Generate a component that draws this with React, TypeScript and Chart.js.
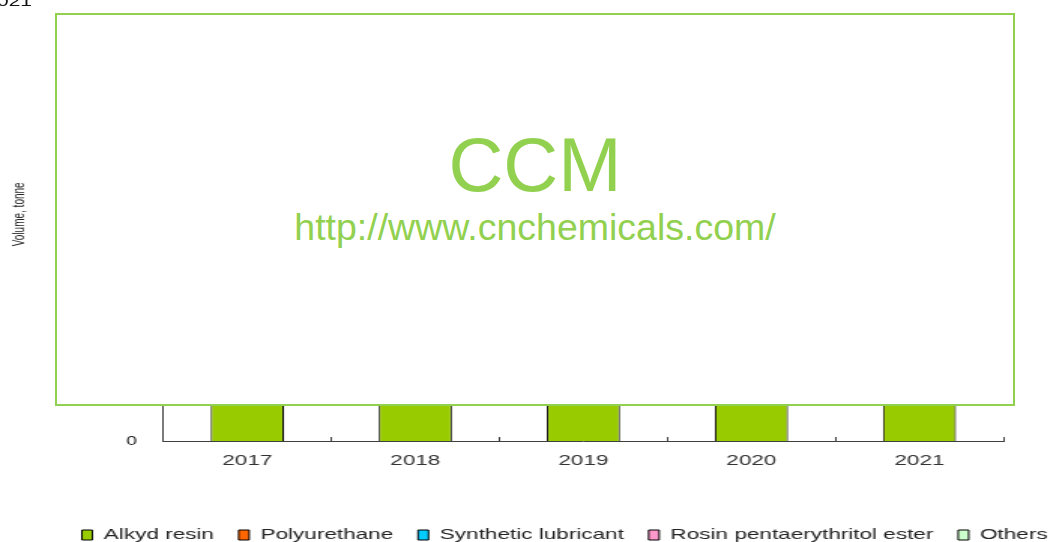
import React, { useEffect, useRef } from 'react';
import { Chart, registerables } from 'chart.js';

Chart.register(...registerables);

// ---- data ----
const years = ['2017', '2018', '2019', '2020', '2021'];
const seriesNames = ['Alkyd resin', 'Polyurethane', 'Synthetic lubricant', 'Rosin pentaerythritol ester', 'Others'];
const alkydResin = [93000, 96000, 99000, 94000, 101000];
const polyurethane = [22000, 24000, 26000, 25000, 28000];
const syntheticLubricant = [15000, 16500, 18000, 17500, 19500];
const rosinEster = [12000, 12500, 13000, 12000, 13500];
const others = [20000, 21000, 22500, 21500, 23000];
const seriesColors = ['#99CC00', '#FF6600', '#00CCFF', '#FF99CC', '#CCFFCC'];
const yAxisTitle = 'Volume, tonne';
const titleFragment = '021';
const watermarkMain = 'CCM';
const watermarkUrl = 'http://www.cnchemicals.com/';

const FONT = "'Liberation Sans', Arial, sans-serif";
const CANVAS_W = 752.6;
const CANVAS_H = 593;

export default function App() {
  const ref = useRef<HTMLCanvasElement>(null);

  useEffect(() => {
    const values = [alkydResin, polyurethane, syntheticLubricant, rosinEster, others];
    const chart = new Chart(ref.current!, {
      type: 'bar',
      data: {
        labels: years,
        datasets: seriesNames.map((name, i) => ({
          label: name,
          data: values[i],
          backgroundColor: seriesColors[i],
          borderColor: '#000000',
          borderWidth: 1,
          categoryPercentage: 1,
          barPercentage: 0.435,
        })),
      },
      options: {
        responsive: false,
        animation: false,
        devicePixelRatio: 1,
        layout: { padding: { top: 61, left: 0, right: 0, bottom: 0.5 } },
        font: { family: FONT },
        plugins: {
          title: { display: false },
          tooltip: { enabled: false },
          legend: {
            position: 'bottom',
            labels: {
              font: { family: FONT, size: 15 },
              color: '#222222',
              boxWidth: 7,
              boxHeight: 10,
              padding: 16.5,
            },
          },
        },
        scales: {
          x: {
            stacked: true,
            grid: {
              display: true,
              drawOnChartArea: false,
              drawTicks: true,
              tickLength: -4,
              offset: true,
              color: '#404040',
              lineWidth: 1,
            },
            border: { display: true, color: '#404040', width: 1 },
            ticks: { font: { family: FONT, size: 15 }, color: '#333333', padding: 14.5 },
            afterFit: (s: any) => { s.height = 70; },
          },
          y: {
            stacked: true,
            min: 0,
            max: 200000,
            grid: { display: false, drawTicks: false },
            border: { display: true, color: '#404040', width: 1 },
            ticks: { stepSize: 50000, font: { family: FONT, size: 13 }, color: '#222222', padding: 17.4 },
            title: {
              display: true,
              text: '            ' + yAxisTitle,
              font: { family: FONT, size: 10 },
              color: '#222222',
              padding: { top: 7.3, bottom: 0 },
            },
            afterFit: (s: any) => { s.width = 108.7; },
          },
          y2: {
            type: 'linear',
            position: 'right',
            display: true,
            grid: { display: false, drawTicks: false },
            border: { display: false },
            ticks: { display: false },
            afterFit: (s: any) => { s.width = CANVAS_W - 668.7; },
          },
        },
      } as any,
    });
    return () => chart.destroy();
  }, []);

  return (
    <div
      style={{
        position: 'fixed',
        left: 0,
        top: 0,
        width: 1048,
        height: 542,
        overflow: 'hidden',
        background: '#ffffff',
        fontFamily: FONT,
      }}
    >
      <div
        style={{
          position: 'absolute',
          left: 0,
          top: -40,
          width: CANVAS_W,
          height: CANVAS_H,
          transform: 'scaleX(1.5)',
          transformOrigin: '0 0',
        }}
      >
        <canvas ref={ref} width={CANVAS_W} height={CANVAS_H} style={{ display: 'block', width: CANVAS_W, height: CANVAS_H }} />
        <div
          style={{
            position: 'absolute',
            left: -2,
            top: 33.65,
            fontSize: 14,
            lineHeight: '14px',
            color: '#111111',
            whiteSpace: 'nowrap',
          }}
        >
          {titleFragment}
        </div>
      </div>
      <div
        style={{
          position: 'absolute',
          left: 55,
          top: 13,
          width: 960,
          height: 393,
          boxSizing: 'border-box',
          border: '2px solid #92D050',
          background: '#ffffff',
        }}
      >
        <div
          style={{
            position: 'absolute',
            left: 0,
            right: 0,
            top: 111.7,
            textAlign: 'center',
            fontSize: 76,
            lineHeight: '76px',
            color: '#92D050',
            whiteSpace: 'nowrap',
          }}
        >
          {watermarkMain}
        </div>
        <div
          style={{
            position: 'absolute',
            left: 0,
            right: 0,
            top: 193.7,
            textAlign: 'center',
            fontSize: 37.5,
            lineHeight: '37.5px',
            color: '#92D050',
            whiteSpace: 'nowrap',
          }}
        >
          {watermarkUrl}
        </div>
      </div>
    </div>
  );
}
